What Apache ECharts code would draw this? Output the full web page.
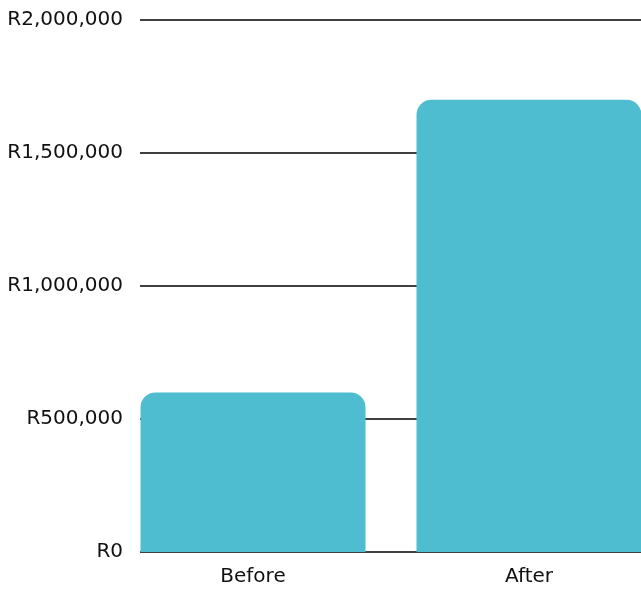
<!DOCTYPE html>
<html>
<head>
<meta charset="utf-8">
<script src="https://cdn.jsdelivr.net/npm/echarts@6/dist/echarts.min.js"></script>
<style>
html,body{margin:0;padding:0;background:#fff;}
#c{width:641px;height:589px;}
</style>
</head>
<body>
<div id="c"></div>
<script>
const categories = ["Before", "After"];
const values = [600000, 1700000];
const yMin = 0;
const yMax = 2000000;
const yInterval = 500000;

const FONT = "'DejaVu Sans', sans-serif";
function fmt(v) {
  return 'R' + String(v).replace(/\B(?=(\d{3})+(?!\d))/g, ',');
}

const chart = echarts.init(document.getElementById('c'));
chart.setOption({
  animation: false,
  backgroundColor: '#ffffff',
  grid: [
    { left: 140, right: 0, top: 20, bottom: 37, outerBoundsMode: 'none' },
    { left: 115, width: 552, top: 20, bottom: 37, outerBoundsMode: 'none' }
  ],
  xAxis: [
    { gridIndex: 0, type: 'value', min: 0, max: 1, show: false },
    {
      gridIndex: 1, type: 'category', data: categories,
      axisLine: { show: false }, axisTick: { show: false },
      axisLabel: { color: '#111', fontSize: 20, fontFamily: FONT, margin: 15 }
    }
  ],
  yAxis: [
    {
      gridIndex: 0, type: 'value', min: yMin, max: yMax, interval: yInterval,
      axisLine: { show: false }, axisTick: { show: false },
      axisLabel: { color: '#111', fontSize: 20, fontFamily: FONT, margin: 17, formatter: fmt, padding: [2, 0, 0, 0] },
      splitLine: { show: true, lineStyle: { color: '#000', width: 1.5 } }
    },
    {
      gridIndex: 1, type: 'value', min: yMin, max: yMax, interval: yInterval,
      show: false
    }
  ],
  series: [{
    type: 'bar',
    xAxisIndex: 1, yAxisIndex: 1,
    data: values,
    barWidth: 225,
    itemStyle: { color: '#4ebdcf', borderRadius: [15, 15, 0, 0] }
  }]
});
</script>
</body>
</html>
